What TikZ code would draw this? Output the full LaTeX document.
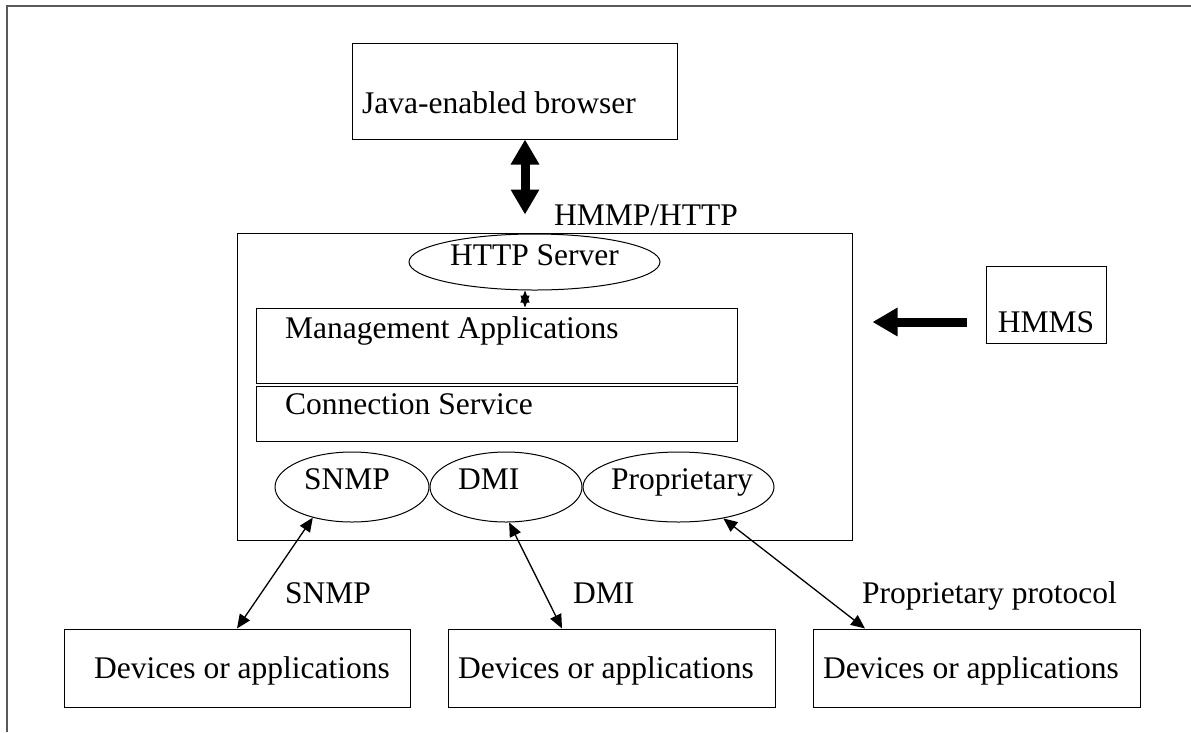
\documentclass[tikz,border=0pt]{standalone}
\usepackage{fontspec}
\setmainfont{Liberation Serif}
\usetikzlibrary{arrows.meta,shapes.geometric}
\begin{document}
\begin{tikzpicture}[x=1pt,y=-1pt,
  box/.style={draw, line width=1pt, rectangle, inner sep=0pt},
  ell/.style={draw, line width=1pt, ellipse, inner sep=0pt},
  txt/.style={font=\fontsize{31.5}{36}\selectfont, inner sep=0pt, anchor=base west},
  ctxt/.style={txt, anchor=base},
  bigarrow/.style={line width=9pt, {Triangle[width=27pt,length=25pt]}-{Triangle[width=27pt,length=25pt]}},
  bigsingle/.style={line width=9pt, -{Triangle[width=27pt,length=25pt]}},
  thinarrow/.style={line width=1.3pt, {Triangle[width=12pt,length=14pt]}-{Triangle[width=12pt,length=14pt]}},
  tinyarrow/.style={line width=1pt, {Triangle[width=9pt,length=12pt]}-{Triangle[width=9pt,length=12pt]}},
  framestyle/.style={draw=black!65, line width=1.6pt}
]
\useasboundingbox (0,0) rectangle (1191,732);
\fill[white] (0,0) rectangle (1191,732);
% outer frame (top and left only)
\draw[framestyle] (7,732) -- (7,6) -- (1191,6);

% boxes
\node[box, minimum width=325pt, minimum height=96pt] (java) at (514.5,91) {};
\node[box, minimum width=615pt, minimum height=307pt] (main) at (544.5,386.5) {};
\node[box, minimum width=481pt, minimum height=75pt] (mgmt) at (496.5,345.5) {};
\node[box, minimum width=481pt, minimum height=55pt] (conn) at (496.5,413.5) {};
\node[ell, minimum width=251pt, minimum height=56pt] (http) at (534.5,262) {};
\node[ell, minimum width=154pt, minimum height=70pt] (snmp) at (352,487) {};
\node[ell, minimum width=152pt, minimum height=70pt] (dmi) at (506,487) {};
\node[ell, minimum width=191pt, minimum height=70pt] (prop) at (678.5,487) {};
\node[box, minimum width=120pt, minimum height=77pt] (hmms) at (1046,304.5) {};
\node[box, minimum width=346pt, minimum height=78pt] (dev1) at (237,668) {};
\node[box, minimum width=327pt, minimum height=78pt] (dev2) at (611.5,668) {};
\node[box, minimum width=327pt, minimum height=78pt] (dev3) at (976.5,668) {};

% texts
\node[txt] (tjava) at (362,113) {Java-enabled browser};
\node[txt] (thmmp) at (554,225) {HMMP/HTTP};
\node[ctxt] (thttp) at (534.5,265) {HTTP Server};
\node[txt] (tmgmt) at (285,338) {Management Applications};
\node[txt] (tconn) at (285,414) {Connection Service};
\node[txt] (tsnmp) at (304,489) {SNMP};
\node[txt] (tdmi) at (458,489) {DMI};
\node[txt] (tprop) at (611,489) {Proprietary};
\node[ctxt] (thmms) at (1046,332) {HMMS};
\node[txt] (lsnmp) at (285,603) {SNMP};
\node[txt] (ldmi) at (573,603) {DMI};
\node[txt] (lprop) at (862,603) {Proprietary protocol};
\node[txt] (tdev1) at (94,678) {Devices or applications};
\node[txt] (tdev2) at (458,678) {Devices or applications};
\node[txt] (tdev3) at (823,678) {Devices or applications};

% connectors
\coordinate (bv) at (525,0);
\coordinate (ha) at (0,322);
\draw[bigarrow, shorten >=18pt] (java.south -| bv) -- (main.north -| bv);
\draw[tinyarrow] (http.south -| bv) -- (mgmt.north -| bv);
\draw[bigsingle, shorten <=19pt, shorten >=20pt] (hmms.west |- ha) -- (main.east |- ha);
\draw[thinarrow] (snmp.218) -- (dev1.north);
\draw[thinarrow] (dmi.275) -- ([xshift=-49.5pt]dev2.north);
\draw[thinarrow] (prop.325) -- ([xshift=-111.5pt]dev3.north);
\end{tikzpicture}
\end{document}
